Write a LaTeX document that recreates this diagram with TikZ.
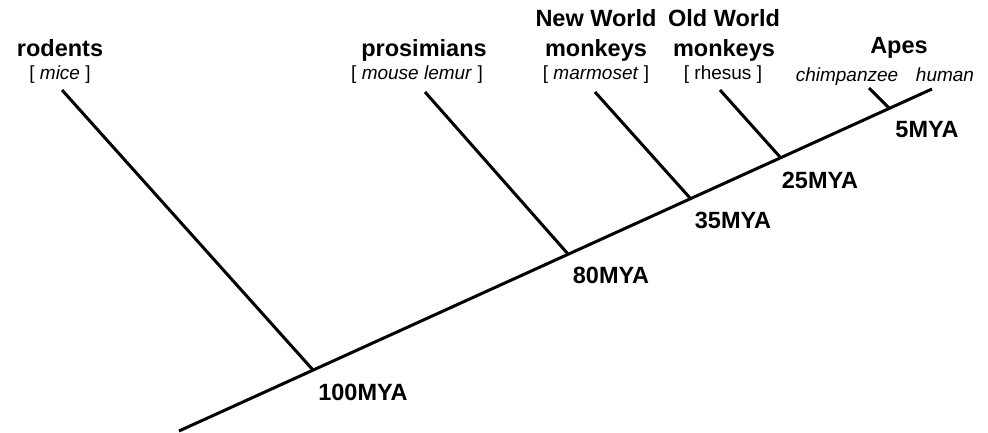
\documentclass[tikz,border=0pt]{standalone}
\usepackage{fontspec}
\setmainfont{Liberation Sans}
\newcommand{\bsp}{\hspace{0.28em}}
\begin{document}
\begin{tikzpicture}[x=1pt,y=-1pt,
  branch/.style={line width=3pt,line cap=butt},
  clade/.style={font=\fontsize{23.5}{25}\selectfont\bfseries,align=center,inner sep=0pt},
  species/.style={font=\fontsize{19}{20}\selectfont,inner sep=0pt},
  age/.style={font=\fontsize{23.5}{25}\selectfont\bfseries,inner sep=0pt}]
\useasboundingbox (0,0) rectangle (988,433);
% main axis points
\coordinate (root) at (179,431);
\coordinate (n100) at (313,370);
\coordinate (n80) at (568,254);
\coordinate (n35) at (690,198);
\coordinate (n25) at (780,157);
\coordinate (n5) at (889,108);
\coordinate (humanend) at (932,89);
% tips
\coordinate (rodtip) at (62,90);
\coordinate (protip) at (425,92);
\coordinate (nwmtip) at (595,92);
\coordinate (owmtip) at (720,90);
\coordinate (chitip) at (869,88);
% lines
\draw[branch] (root) -- (humanend);
\draw[branch] (rodtip) -- (n100);
\draw[branch] (protip) -- (n80);
\draw[branch] (nwmtip) -- (n35);
\draw[branch] (owmtip) -- (n25);
\draw[branch] (chitip) -- (n5);
% clade labels
\node[clade,anchor=base] (rod) at (60,57) {rodents};
\node[species,anchor=base] (rodsp) at (60,80) {[\bsp\textit{mice}\bsp]};
\node[clade,anchor=base] (pro) at (424,57) {prosimians};
\node[species,anchor=base] (prosp) at (417,80) {[\bsp\textit{mouse lemur}\bsp]};
\node[clade,anchor=base] (nwm1) at (596,27) {New World};
\node[clade,anchor=base] (nwm2) at (596,57) {monkeys};
\node[species,anchor=base] (nwmsp) at (596,80) {[\bsp\textit{marmoset}\bsp]};
\node[clade,anchor=base] (owm1) at (724,27) {Old World};
\node[clade,anchor=base] (owm2) at (724,57) {monkeys};
\node[species,anchor=base] (owmsp) at (723,80) {[\bsp rhesus\bsp]};
\node[clade,anchor=base] (apes) at (899,54) {Apes};
\node[species,anchor=base] (chimp) at (847,82) {\textit{chimpanzee}};
\node[species,anchor=base] (human) at (945,82) {\textit{human}};
% ages
\node[age] (a100) at (363,392) {100MYA};
\node[age] (a80) at (611,275) {80MYA};
\node[age] (a35) at (733,220) {35MYA};
\node[age] (a25) at (820,180) {25MYA};
\node[age] (a5) at (927,130) {5MYA};
\end{tikzpicture}
\end{document}
